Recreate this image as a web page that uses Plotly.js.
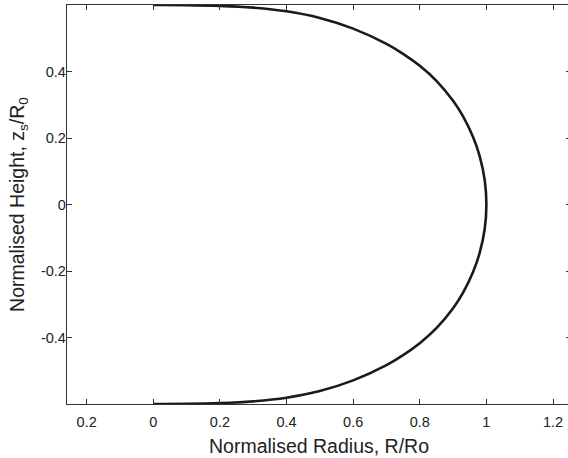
<!DOCTYPE html>
<html>
<head>
<meta charset="utf-8">
<script src="https://cdn.plot.ly/plotly-3.0.1.min.js"></script>
<style>
html,body{margin:0;padding:0;overflow:hidden;background:#fff;}
#chart{width:571px;height:458px;}
</style>
</head>
<body>
<div id="chart"></div>
<script>
// Normalised radius R/Ro along the upper half of the profile
const radiusUpper = [0, 0.1, 0.2, 0.3, 0.4, 0.5, 0.6, 0.7, 0.75, 0.8, 0.85, 0.9, 0.93, 0.96, 0.98, 0.995, 1.0];
const heightUpper = [0.600, 0.5997, 0.5975, 0.592, 0.581, 0.561, 0.529, 0.483, 0.453, 0.417, 0.372, 0.312, 0.265, 0.203, 0.145, 0.073, 0.0];
// Lower half, from R/Ro = 1 back to 0
const radiusLower = [0.995, 0.98, 0.96, 0.93, 0.9, 0.85, 0.8, 0.75, 0.7, 0.6, 0.5, 0.4, 0.3, 0.2, 0.1, 0];
const heightLower = [-0.073, -0.145, -0.203, -0.265, -0.312, -0.372, -0.417, -0.453, -0.483, -0.529, -0.561, -0.581, -0.592, -0.5975, -0.5997, -0.600];

const xTickVals = [-0.2, 0, 0.2, 0.4, 0.6, 0.8, 1, 1.2];
const xTickText = ["0.2", "0", "0.2", "0.4", "0.6", "0.8", "1", "1.2"];
const yTickVals = [-0.4, -0.2, 0, 0.2, 0.4];
const yTickText = ["-0.4", "-0.2", "0", "0.2", "0.4"];

const xs = radiusUpper.concat(radiusLower);
const ys = heightUpper.concat(heightLower);

const trace = {
  x: xs, y: ys, mode: 'lines', type: 'scatter',
  line: {color: '#1a1a1a', width: 2.6, shape: 'spline', smoothing: 1},
  hoverinfo: 'skip', cliponaxis: false
};

const fontFam = 'Liberation Sans, Arial, sans-serif';
const axisCommon = {
  showgrid: false, zeroline: false, showline: true, mirror: 'ticks',
  linecolor: '#333', linewidth: 1.2, ticks: 'inside', ticklen: 5, tickwidth: 1,
  tickcolor: '#333', tickfont: {family: fontFam, size: 14.5, color: '#222'}
};

const layout = {
  width: 571, height: 458,
  margin: {l: 67, r: 0, t: 5, b: 54},
  paper_bgcolor: '#fff', plot_bgcolor: '#fff',
  showlegend: false,
  font: {family: fontFam, color: '#222'},
  xaxis: Object.assign({}, axisCommon, {
    range: [-0.259, 1.254], tickmode: 'array', tickvals: xTickVals, ticktext: xTickText,
    ticklabelstandoff: 4,
    title: {text: 'Normalised Radius, R/Ro', font: {size: 19.5, color: '#222'}, standoff: 10}
  }),
  yaxis: Object.assign({}, axisCommon, {
    range: [-0.6, 0.6], tickmode: 'array', tickvals: yTickVals, ticktext: yTickText,
    ticklabelstandoff: -3,
    title: {text: 'Normalised Height, z<sub>s</sub>/R<sub>0</sub>', font: {size: 19.5, color: '#222'}, standoff: 11}
  })
};

Plotly.newPlot('chart', [trace], layout, {staticPlot: true, displayModeBar: false});
</script>
</body>
</html>
